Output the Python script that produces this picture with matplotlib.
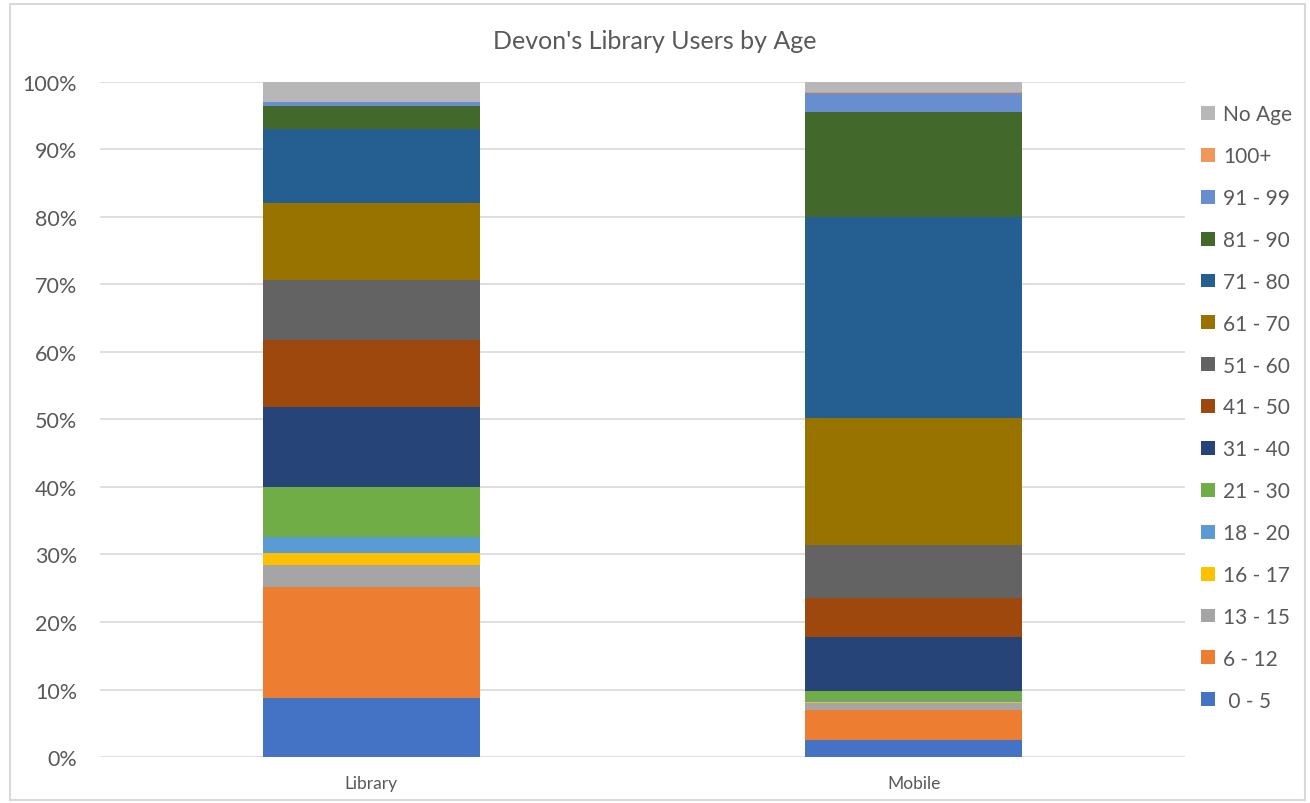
import numpy as np
import matplotlib.pyplot as plt
from matplotlib.patches import Patch, Rectangle

plt.rcParams['font.family'] = ['Lato', 'DejaVu Sans']

categories = ["Library", "Mobile"]
age_groups = [" 0 - 5", "6 - 12", "13 - 15", "16 - 17", "18 - 20", "21 - 30",
              "31 - 40", "41 - 50", "51 - 60", "61 - 70", "71 - 80", "81 - 90",
              "91 - 99", "100+", "No Age"]

# share of users (%) per age group, Library / Mobile
library = [8.8, 16.4, 3.2, 1.8, 2.4, 7.4, 11.8, 10.0, 8.8, 11.5, 10.9, 3.4, 0.6, 0.05, 2.95]
mobile = [2.5, 4.5, 1.0, 0.2, 0.1, 1.5, 8.0, 5.8, 7.8, 18.8, 29.8, 15.5, 2.9, 0.15, 1.45]

colors = ["#4472C4", "#ED7D31", "#A5A5A5", "#FFC000", "#5B9BD5", "#70AD47",
          "#264478", "#9E480E", "#636363", "#997300", "#255E91", "#43682B",
          "#698ED0", "#F1975A", "#B7B7B7"]

text_col = "#595959"

fig = plt.figure(figsize=(13.1, 8.04), dpi=100)
ax = fig.add_axes([0.0763, 0.0572, 0.8283, 0.8396])

x = np.arange(len(categories))
bottom = np.zeros(len(categories))
for i, grp in enumerate(age_groups):
    vals = np.array([library[i], mobile[i]])
    ax.bar(x, vals, width=0.4, bottom=bottom, color=colors[i], label=grp,
           linewidth=0, zorder=3)
    bottom += vals

ax.set_xlim(-0.5, 1.5)
ax.set_ylim(0, 100)
ax.set_yticks(np.arange(0, 101, 10))
ax.set_yticklabels([f"{v}%" for v in range(0, 101, 10)])
ax.set_xticks(x)
ax.set_xticklabels(categories)
ax.tick_params(axis='y', length=0, pad=16.5, labelsize=15.5, labelcolor=text_col)
ax.tick_params(axis='x', length=0, pad=13, labelsize=12.5, labelcolor=text_col)
ax.grid(axis='y', color="#D9D9D9", linewidth=1.2, zorder=0)
for s in ax.spines.values():
    s.set_visible(False)

fig.text(0.5, 0.948, "Devon's Library Users by Age", ha='center', va='center',
         fontsize=18, color=text_col)

handles = [Patch(facecolor=c, edgecolor='none') for c in colors][::-1]
labels = age_groups[::-1]
fig.legend(handles, labels, loc='upper left', bbox_to_anchor=(0.917, 0.869),
           frameon=False, fontsize=15, labelcolor=text_col, handlelength=0.65,
           handleheight=0.65, handletextpad=0.4, labelspacing=1.05,
           borderaxespad=0, borderpad=0)

fig.patches.append(Rectangle((0.008, 0.004), 0.988, 0.99, transform=fig.transFigure,
                             fill=False, edgecolor="#D9D9D9", linewidth=1.5))

fig.savefig("out.png", dpi=100)
